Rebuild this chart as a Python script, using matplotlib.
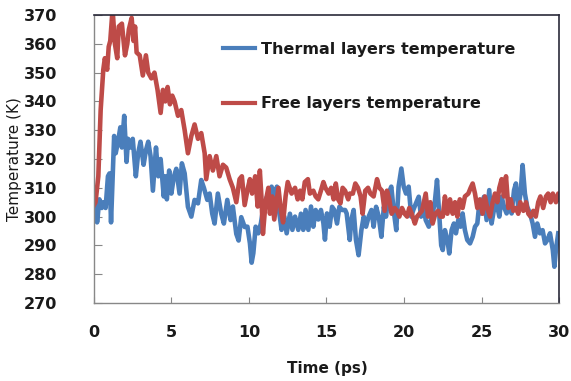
import matplotlib
matplotlib.use('Agg')
import matplotlib.pyplot as plt

# =========================
# DATA
# =========================
free_t = [0.0, 0.1, 0.28, 0.43, 0.6, 0.7, 0.85, 0.95, 1.05, 1.2, 1.35, 1.5, 1.6, 1.8,
          2.0, 2.15, 2.25, 2.43, 2.55, 2.65, 2.75, 2.95, 3.15, 3.35, 3.5, 3.7, 3.9,
          4.1, 4.3, 4.45, 4.6, 4.75, 4.9, 5.05, 5.2, 5.42, 5.63, 5.85, 6.06, 6.28,
          6.49, 6.71, 6.92, 7.14, 7.24, 7.46, 7.67, 7.89, 8.10, 8.32, 8.53, 8.75,
          8.96, 9.18, 9.39, 9.54, 9.72, 9.93, 10.06, 10.2, 10.4, 10.56, 10.7, 10.8,
          10.9, 11.07, 11.25, 11.35, 11.5, 11.63, 11.8, 11.9, 12.06, 12.2, 12.36,
          12.5, 12.75, 12.97, 13.14, 13.3, 13.44, 13.6, 13.8, 13.93, 14.15, 14.3,
          14.47, 14.64, 14.8, 14.93, 15.14, 15.3, 15.46, 15.6, 15.75, 15.9, 16.04,
          16.2, 16.4, 16.5, 16.7, 16.86, 17.03, 17.2, 17.33, 17.5, 17.68, 17.83,
          18.04, 18.26, 18.41, 18.58, 18.75, 18.9, 19.05, 19.2, 19.4, 19.55, 19.7,
          19.87, 20.04, 20.2, 20.34, 20.5, 20.7, 20.84, 21.0, 21.16, 21.4, 21.55,
          21.7, 21.85, 22.02, 22.2, 22.34, 22.5, 22.64, 22.8, 22.97, 23.14, 23.29,
          23.44, 23.6, 23.78, 23.93, 24.15, 24.3, 24.43, 24.58, 24.73, 24.9, 25.07,
          25.22, 25.37, 25.55, 25.72, 25.87, 26.02, 26.15, 26.3, 26.45, 26.58,
          26.73, 26.88, 27.05, 27.22, 27.37, 27.5, 27.7, 27.87, 28.02, 28.17, 28.34,
          28.5, 28.66, 28.8, 28.98, 29.16, 29.3, 29.46, 29.6, 29.8, 29.95, 30.0]
free_T = [304, 305, 314, 337, 351, 355, 351, 359, 361, 372, 360, 355, 366, 367,
          356, 360, 365, 369, 361, 366, 357, 356, 349, 356, 350, 348, 350,
          344, 336, 344, 340, 345, 339, 342, 340, 335, 337, 330, 322, 328,
          332, 327, 329, 322, 313, 321, 316, 321, 314, 318, 317, 313,
          310, 305, 313, 314, 304, 310, 313, 308, 314, 303.5, 316, 307,
          294, 305, 310, 301, 307, 299, 306, 310, 302, 298, 307,
          312, 308, 310, 306, 309, 306, 312, 313, 308, 309, 307,
          306, 309, 312, 310, 308, 310, 306, 311.5, 306, 304.6, 310,
          309, 306, 308, 308, 311.5, 310, 307, 301, 309, 310, 308,
          307, 313, 310, 309, 302, 309, 306, 301, 303, 302, 300,
          303, 301, 300, 303, 301, 297.6, 300, 301, 302, 308, 300,
          305, 297.6, 301, 302, 300, 300, 307, 301, 306, 301, 305,
          300, 306, 303, 307, 308, 310, 311.5, 308, 303, 306, 301,
          307, 303, 300, 305, 308, 305, 310, 313, 307, 314,
          303, 306, 302, 303, 301, 305, 302, 305, 301, 300, 302,
          300, 305, 307, 303, 307, 308, 305, 308, 305, 308, 306]

thermal_t = [0.0, 0.07, 0.2, 0.35, 0.5, 0.6, 0.75, 0.9, 1.0, 1.1, 1.3, 1.4, 1.55, 1.7,
             1.8, 1.95, 2.1, 2.2, 2.35, 2.5, 2.7, 2.85, 3.0, 3.2, 3.35, 3.5, 3.65,
             3.8, 4.0, 4.15, 4.3, 4.5, 4.6, 4.7, 4.85, 4.99, 5.16, 5.31, 5.52, 5.67,
             5.85, 6.06, 6.28, 6.49, 6.71, 6.92, 7.09, 7.31, 7.46, 7.63, 7.78, 7.99,
             8.21, 8.38, 8.6, 8.81, 8.96, 9.18, 9.33, 9.5, 9.72, 9.9, 10.06, 10.17,
             10.28, 10.43, 10.6, 10.77, 10.9, 11.07, 11.25, 11.46, 11.63, 11.8,
             11.93, 12.1, 12.28, 12.43, 12.64, 12.8, 12.97, 13.18, 13.35, 13.5,
             13.65, 13.83, 14.0, 14.15, 14.3, 14.47, 14.64, 14.8, 14.9, 15.03, 15.2,
             15.36, 15.5, 15.68, 15.83, 16.0, 16.2, 16.3, 16.5, 16.6, 16.75, 16.9,
             17.07, 17.25, 17.4, 17.55, 17.72, 17.9, 18.04, 18.2, 18.37, 18.54,
             18.7, 18.84, 19.0, 19.18, 19.33, 19.5, 19.65, 19.83, 19.98, 20.13,
             20.3, 20.47, 20.6, 20.77, 20.95, 21.1, 21.27, 21.4, 21.6, 21.8, 21.98,
             22.13, 22.28, 22.4, 22.5, 22.64, 22.8, 22.92, 23.07, 23.22, 23.35,
             23.5, 23.65, 23.78, 23.93, 24.08, 24.26, 24.43, 24.58, 24.73, 24.86,
             25.0, 25.16, 25.33, 25.5, 25.65, 25.8, 25.98, 26.15, 26.3, 26.45,
             26.62, 26.8, 26.94, 27.1, 27.22, 27.37, 27.52, 27.65, 27.8, 27.95,
             28.13, 28.3, 28.45, 28.6, 28.77, 28.94, 29.1, 29.25, 29.42, 29.6,
             29.7, 29.8, 29.95]
thermal_T = [310, 310, 298, 306, 303, 305, 303, 314, 315, 298, 328, 322, 326, 331,
             324, 335, 319, 327, 324, 327, 314, 322, 326, 318, 323, 326, 321,
             309, 324, 314, 320, 307, 314, 306, 316, 308, 314, 316.6, 308, 318.5,
             315, 303.4, 300, 305.8, 304.6, 312.7, 310, 305.8, 308, 301, 297.6, 308,
             301, 297.6, 305.8, 298.8, 303.5, 294, 291.7, 299.8, 296.4, 296.5, 290.7, 284,
             287.3, 296.5, 294.2, 297.7, 302.3, 305.8, 308, 310.4, 305.8, 310.4,
             302.3, 295.4, 300, 294.2, 301, 295.4, 300, 295.4, 301, 295.4,
             302.3, 295.4, 303.5, 296.5, 302.3, 299, 302.3, 297.7, 292, 301.1, 296.5,
             303.4, 302.3, 297.6, 303.4, 302.3, 302.3, 301.1, 291.9, 298.8, 302.3, 291.9,
             286.6, 295.3, 300, 296.5, 300, 302.3, 296.5, 303.4, 300, 293,
             303.4, 300, 308, 310.4, 302.3, 295.3, 310.4, 316.7, 310.4, 308,
             310.4, 300, 302.3, 304.6, 306.9, 300, 303.4, 298.8, 296.5, 300, 304.6,
             312.7, 300, 290, 288.4, 295.3, 291.9, 287.2, 295.3, 297.6, 294.2,
             298.8, 296.5, 301.1, 295.3, 291.9, 290.7, 293, 296.5, 297.6, 304.6,
             301.1, 306.9, 298.8, 309.2, 297.6, 302.3, 304.6, 300, 306.9, 303.4,
             301.1, 305.7, 301.1, 309.2, 311.5, 303.4, 308, 317.9, 308, 303.4,
             301.1, 297.6, 293, 297.6, 294.2, 295.3, 290.7, 291.9, 294.2, 288.4,
             282.6, 288.4, 294.2]

x_ticks = [0, 5, 10, 15, 20, 25, 30]
y_ticks = [270, 280, 290, 300, 310, 320, 330, 340, 350, 360, 370]

# =========================
# STYLE
# =========================
plt.rcParams['xtick.direction'] = 'in'
plt.rcParams['ytick.direction'] = 'in'
plt.rcParams['xtick.major.pad'] = 16
plt.rcParams['ytick.major.pad'] = 26.5

# =========================
# FIGURE
# =========================
fig = plt.figure(figsize=(5.71, 3.81), dpi=100)
ax = fig.add_axes([0.1646, 0.2047, 0.8144, 0.7559])

ax.plot(thermal_t, thermal_T, color='#4A7EBB', lw=3.3, label='Thermal layers temperature',
        solid_joinstyle='round')
ax.plot(free_t, free_T, color='#BE4B48', lw=3.3, label='Free layers temperature',
        solid_joinstyle='round')

ax.set_xlim(0, 30)
ax.set_ylim(270, 370)
ax.set_xticks(x_ticks)
ax.set_yticks(y_ticks)
ax.tick_params(axis='x', length=4, width=0.8, color='#888888')
ax.tick_params(axis='y', length=6, width=0.8, color='#888888')
for lab in ax.get_xticklabels() + ax.get_yticklabels():
    lab.set_fontweight('bold')
    lab.set_fontsize(11.5)
    lab.set_color('#1a1a1a')

for s in ['left', 'bottom']:
    ax.spines[s].set_color('#888888')
    ax.spines[s].set_linewidth(1.0)
for s in ['top', 'right']:
    ax.spines[s].set_color('#2a2a3a')
    ax.spines[s].set_linewidth(1.2)

ax.set_xlabel('Time (ps)', fontsize=11, fontweight='bold', color='#1a1a1a')
ax.xaxis.set_label_coords(0.501, -0.2)
ax.set_ylabel('Temperature (K)', fontsize=11, color='#1a1a1a')
ax.yaxis.set_label_coords(-0.155, 0.5)

leg = ax.legend(loc='upper left', bbox_to_anchor=(0.377, 0.912), bbox_transform=fig.transFigure,
                frameon=False, handlelength=2.0, handletextpad=0.35, labelspacing=2.5,
                borderpad=0, prop={'size': 11.5, 'weight': 'bold'})
for h in leg.get_lines():
    h.set_linewidth(3.0)
for t in leg.get_texts():
    t.set_color('#1a1a1a')

fig.savefig('out.png', dpi=100)
